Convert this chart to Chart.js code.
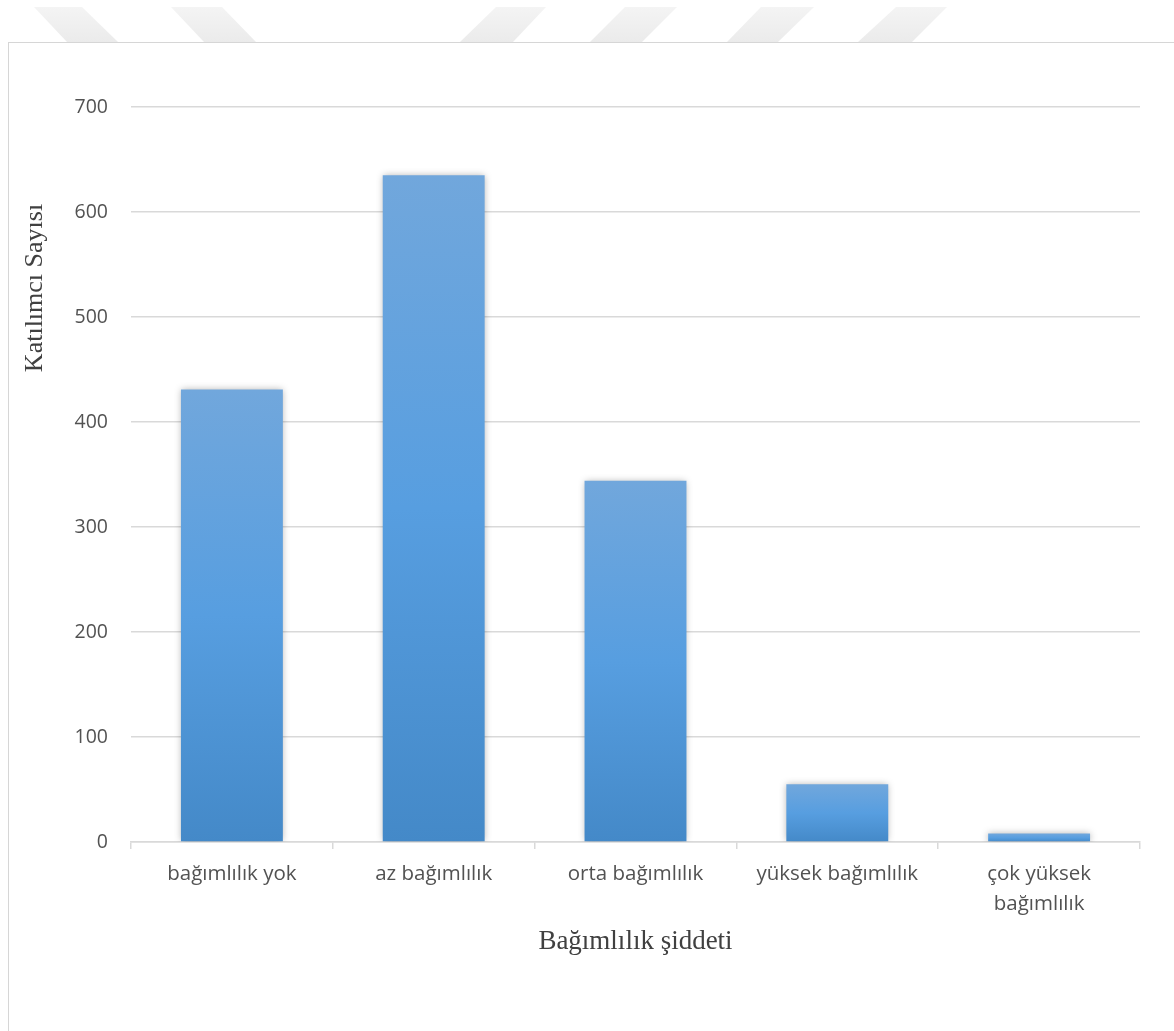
<!DOCTYPE html>
<html lang="tr">
<head>
<meta charset="utf-8">
<title>Bağımlılık şiddeti</title>
<script src="https://cdn.jsdelivr.net/npm/chart.js@4/dist/chart.umd.min.js"></script>
<style>
  html, body { margin: 0; padding: 0; background: #ffffff; }
  body { width: 1174px; height: 1031px; position: relative; overflow: hidden; }
  #stripes { position: absolute; left: 0; top: 0; }
  #frame {
    position: absolute; left: 8px; top: 42px; width: 1200px; height: 1100px;
    border-left: 1px solid #d6d6d6; border-top: 1px solid #d6d6d6;
  }
  #c { position: absolute; left: 0; top: 0; }
</style>
</head>
<body>
<svg id="stripes" width="1174" height="44" viewBox="0 0 1174 44">
  <defs>
    <linearGradient id="fade" x1="0" y1="0" x2="0" y2="1">
      <stop offset="0" stop-color="#f4f4f4"/>
      <stop offset="1" stop-color="#ebebeb"/>
    </linearGradient>
  </defs>
  <g fill="url(#fade)">
    <polygon points="34,7 82,7 118,42 67,42"/>
    <polygon points="171,7 222,7 256,42 204,42"/>
    <polygon points="496,7 546,7 513,42 460,42"/>
    <polygon points="625,7 677,7 642,42 590,42"/>
    <polygon points="761,7 814,7 778,42 727,42"/>
    <polygon points="896,7 947,7 912,42 858,42"/>
  </g>
</svg>
<div id="frame"></div>
<canvas id="c" width="1174" height="1031"></canvas>
<script>
// Participants per dependency-severity group
const categories = ['bağımlılık yok', 'az bağımlılık', 'orta bağımlılık', 'yüksek bağımlılık', 'çok yüksek bağımlılık'];
const participantCounts = [431, 635, 344, 55, 8];
const yTicks = [0, 100, 200, 300, 400, 500, 600, 700];

const yTitle = 'Katılımcı Sayısı';
const xTitle = 'Bağımlılık şiddeti';

const TICK_COLOR = '#525252';
const TITLE_COLOR = '#404040';
const GRID_COLOR = '#d9d9d9';

// Wrap long category labels onto two lines at the last space
function wrapLabel(label) {
  if (label.length <= 18) return label;
  const i = label.lastIndexOf(' ');
  return [label.slice(0, i), label.slice(i + 1)];
}

// Vertical gradient for each bar, light at the top and deeper at the base
function barGradient(ctx) {
  const chart = ctx.chart;
  const y = chart.scales.y;
  if (ctx.type !== 'data' || !y) return '#569ddf';
  const top = y.getPixelForValue(ctx.raw);
  const base = y.getPixelForValue(0);
  if (!isFinite(top) || !isFinite(base) || top === base) return '#569ddf';
  const g = chart.ctx.createLinearGradient(0, top, 0, base);
  g.addColorStop(0, '#71a7dc');
  g.addColorStop(0.5, '#579ee0');
  g.addColorStop(1, '#4489c8');
  return g;
}

// Soft shadow around the bars
const barShadow = {
  id: 'barShadow',
  beforeDatasetsDraw(chart) {
    const c = chart.ctx;
    c.save();
    c.shadowColor = 'rgba(0,0,0,0.30)';
    c.shadowBlur = 7;
    c.shadowOffsetX = 0;
    c.shadowOffsetY = 0;
  },
  afterDatasetsDraw(chart) {
    chart.ctx.restore();
  }
};

// Vertical axis title, set higher up beside the axis
const sideTitle = {
  id: 'sideTitle',
  afterDraw(chart) {
    const c = chart.ctx;
    c.save();
    c.translate(35, 288);
    c.rotate(-Math.PI / 2);
    c.font = '26px "Liberation Serif", "Times New Roman", serif';
    c.fillStyle = TITLE_COLOR;
    c.textAlign = 'center';
    c.textBaseline = 'middle';
    c.fillText(yTitle, 0, 0);
    c.restore();
  }
};

new Chart(document.getElementById('c'), {
  type: 'bar',
  data: {
    labels: categories,
    datasets: [{
      data: participantCounts,
      backgroundColor: barGradient,
      borderWidth: 0,
      barPercentage: 0.505,
      categoryPercentage: 1
    }]
  },
  plugins: [barShadow, sideTitle],
  options: {
    responsive: false,
    animation: false,
    devicePixelRatio: 1,
    layout: { padding: { left: 0, top: 107, right: 34, bottom: 76 } },
    plugins: {
      legend: { display: false },
      tooltip: { enabled: false }
    },
    scales: {
      x: {
        afterFit(scale) { scale.height = 113; },
        grid: {
          offset: true,
          drawOnChartArea: false,
          drawTicks: true,
          tickLength: 7,
          color: GRID_COLOR,
          lineWidth: 1.5
        },
        border: { display: true, color: GRID_COLOR, width: 1.5 },
        ticks: {
          color: TICK_COLOR,
          padding: 10,
          maxRotation: 0,
          autoSkip: false,
          font: { family: '"Open Sans", sans-serif', size: 20.5, lineHeight: 1.46 },
          callback(value) { return wrapLabel(this.getLabelForValue(value)); }
        },
        title: {
          display: true,
          text: xTitle,
          color: TITLE_COLOR,
          padding: { top: 0, bottom: 0 },
          font: { family: '"Liberation Serif", "Times New Roman", serif', size: 27, lineHeight: 1.0 }
        }
      },
      y: {
        min: 0,
        max: 700,
        afterFit(scale) { scale.width = 131; },
        afterBuildTicks(scale) { scale.ticks = yTicks.map(v => ({ value: v })); },
        grid: {
          drawTicks: false,
          color: GRID_COLOR,
          lineWidth: 1.5
        },
        border: { display: false },
        ticks: {
          color: TICK_COLOR,
          padding: 23,
          font: { family: '"Open Sans", sans-serif', size: 19.5 }
        }
      }
    }
  }
});
</script>
</body>
</html>
